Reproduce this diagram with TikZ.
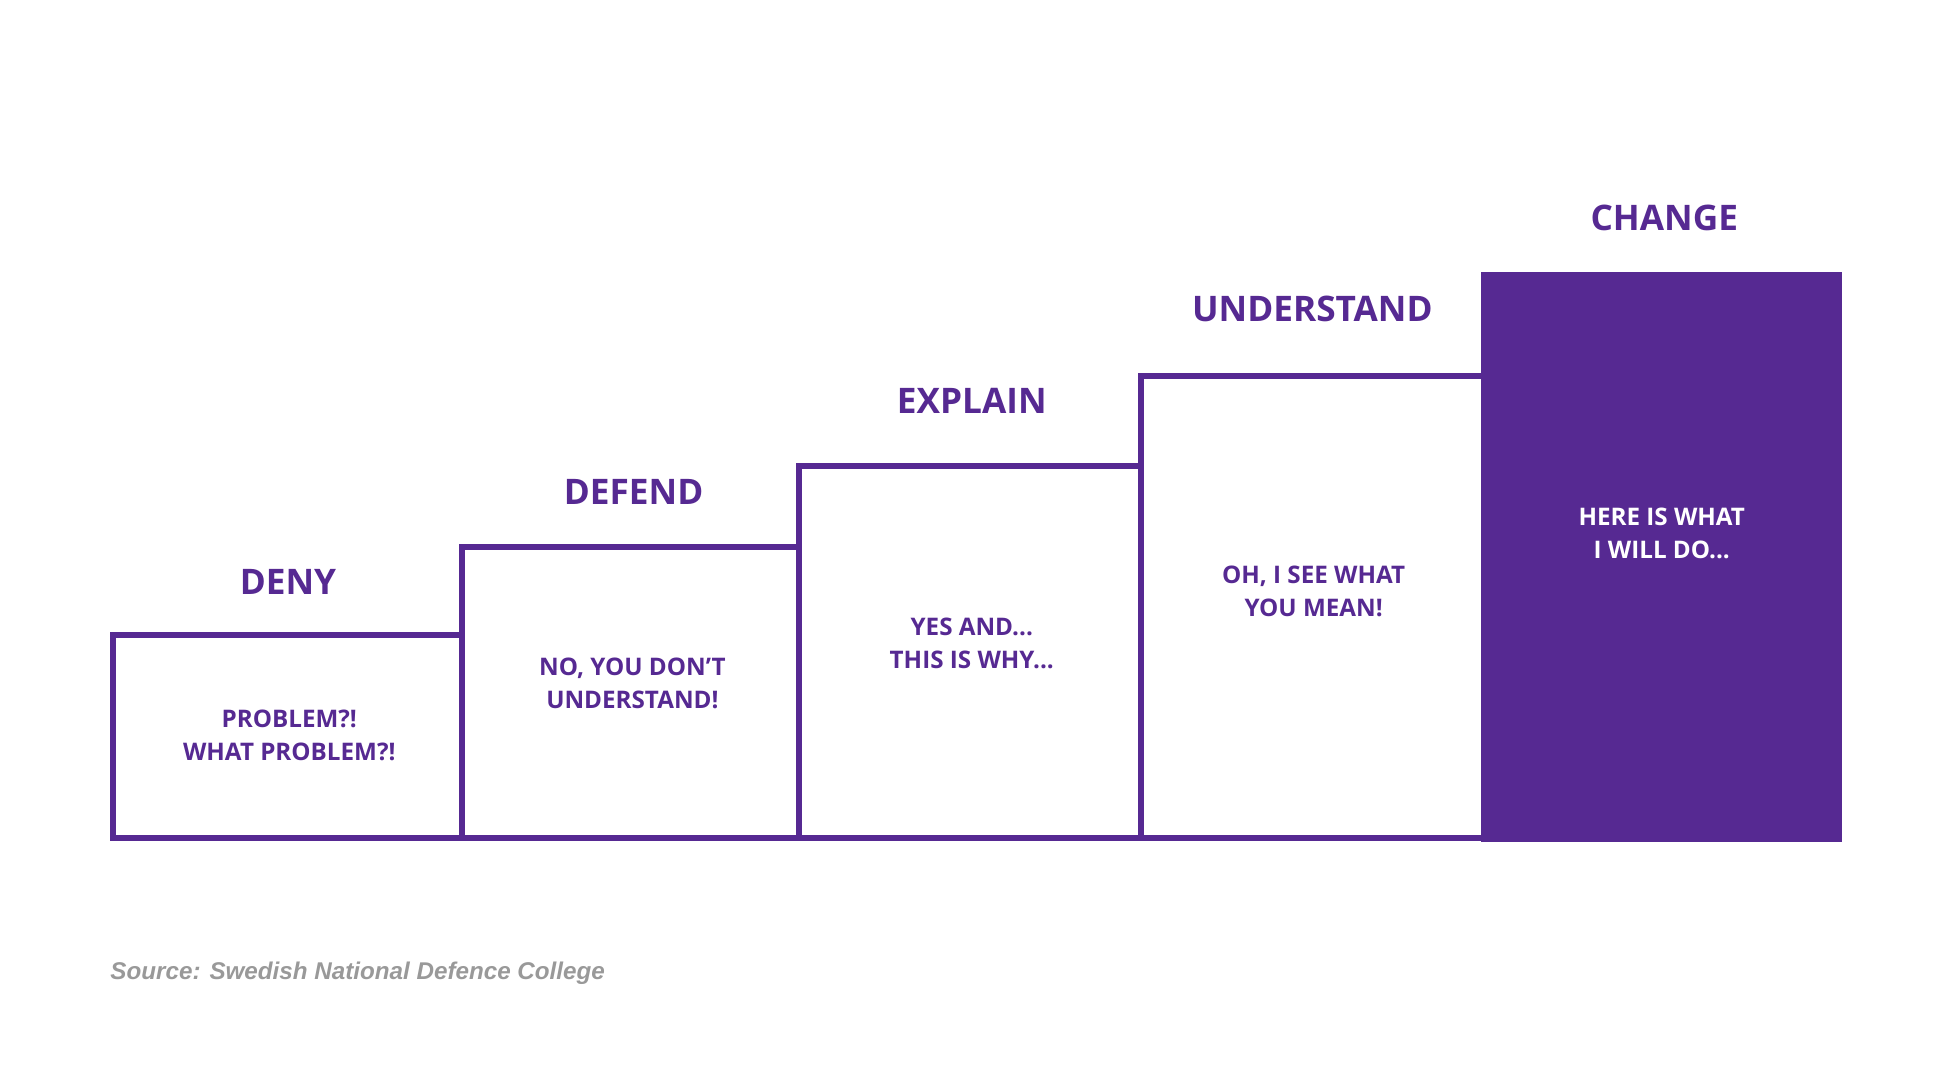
\documentclass[tikz,border=0pt]{standalone}
\usepackage{fontspec}
\setmainfont{Open Sans}
\newfontfamily\srcfont{Liberation Sans}
\definecolor{stepviolet}{RGB}{86,41,146}
\usetikzlibrary{positioning}

\begin{document}
\begin{tikzpicture}
[x=0.02cm,y=0.02cm,
stair/.style={draw=stepviolet,line width=2.8pt,line join=miter},
title/.style={text=stepviolet,font=\bfseries\fontsize{16}{19}\selectfont},
say/.style={text=stepviolet,font=\bfseries\fontsize{11}{15}\selectfont,align=center}]
\useasboundingbox (0,0) rectangle (1554,866);
\fill[stepviolet] (1183,194) rectangle (1471,649);
\draw[stair] (1183,197) -- (90,197) -- (90,359) -- (369,359) -- (369,429)
  -- (638,429) -- (638,494) -- (911,494) -- (911,566) -- (1183,566);
\draw[stair] (369,197) -- (369,359) (638,197) -- (638,429) (911,197) -- (911,494);
\node[title] (deny) at (230,401) {DENY};
\node[title] (defend) at (506,473) {DEFEND};
\node[title] (explain) at (776,546) {EXPLAIN};
\node[title] (understand) at (1048,619) {UNDERSTAND};
\node[title] (change) at (1329,692) {CHANGE};
\node[say] (s1) at (231,279) {PROBLEM?!\\WHAT PROBLEM?!};
\node[say] (s2) at (505,320) {NO, YOU DON’T\\UNDERSTAND!};
\node[say] (s3) at (776,352) {YES AND...\\THIS IS WHY...};
\node[say] (s4) at (1049,394) {OH, I SEE WHAT\\YOU MEAN!};
\node[say,text=white] (s5) at (1327,440) {HERE IS WHAT\\I WILL DO...};
\node[anchor=west,text=black!40,font=\srcfont\bfseries\itshape\fontsize{11}{13}\selectfont] (src) at (82,89) {Source: Swedish National Defence College};
\end{tikzpicture}
\end{document}
